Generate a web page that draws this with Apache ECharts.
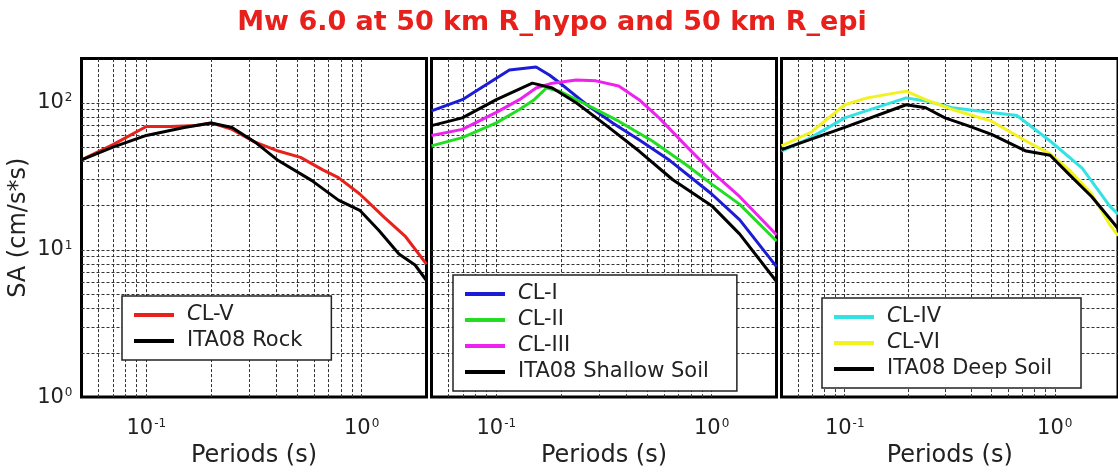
<!DOCTYPE html>
<html>
<head>
<meta charset="utf-8">
<script src="https://cdn.jsdelivr.net/npm/echarts@6/dist/echarts.min.js"></script>
<style>
  html, body { margin: 0; padding: 0; background: #fff; overflow: hidden; }
  #chart { width: 1118px; height: 473px; }
</style>
</head>
<body>
<div id="chart"></div>
<script>
// Response spectra, Mw 6.0 at 50 km (periods in s, SA in cm/s*s)

// Rock
const clVPeriods   = [0.05, 0.07, 0.1, 0.13, 0.17, 0.2, 0.25, 0.32, 0.41, 0.52, 0.66, 0.78, 0.98, 1.27, 1.6, 2.0];
const clV          = [41, 52, 69, 69, 70, 73, 66, 54, 47, 42.6, 35, 31, 24, 16.7, 12.3, 8];
const rockPeriods  = [0.05, 0.07, 0.1, 0.15, 0.2, 0.25, 0.32, 0.41, 0.585, 0.78, 0.98, 1.2, 1.49, 1.77, 2.0];
const ita08Rock    = [41, 50, 60, 68, 73, 68, 54, 40.5, 29.7, 21.8, 18.6, 13.6, 9.4, 7.9, 6.2];

// Shallow soil
const clIPeriods   = [0.05, 0.0695, 0.1, 0.115, 0.153, 0.177, 0.203, 0.263, 0.347, 0.46, 0.64, 1.0, 1.35, 2.0];
const clI          = [88, 105, 147, 167, 175, 154, 132, 97, 73, 56, 40.5, 24, 16, 7.7];
const clIIPeriods  = [0.05, 0.0695, 0.1, 0.128, 0.15, 0.171, 0.196, 0.263, 0.37, 0.53, 0.77, 1.0, 1.35, 2.0];
const clII         = [51, 58, 73, 90, 105, 126, 120, 97, 75, 55, 37.5, 28, 20.4, 11.5];
const clIIIPeriods = [0.05, 0.0695, 0.1, 0.128, 0.153, 0.182, 0.235, 0.29, 0.37, 0.46, 0.57, 0.77, 1.0, 1.35, 2.0];
const clIII        = [60, 66, 86, 105, 126, 136, 143, 141, 130, 105, 79, 50, 34, 23, 12.7];
const shallowPeriods = [0.05, 0.0695, 0.1, 0.147, 0.182, 0.235, 0.325, 0.46, 0.66, 1.0, 1.35, 2.0];
const ita08Shallow = [70, 79, 105, 136, 126, 100, 70, 47, 30, 20, 12.8, 6.1];

// Deep soil
const clIVPeriods  = [0.05, 0.069, 0.1, 0.196, 0.243, 0.325, 0.5, 0.66, 0.95, 1.35, 1.82, 2.0];
const clIV         = [47, 58, 79, 108, 103, 92.5, 86, 82, 55, 36, 20, 17.5];
const clVIPeriods  = [0.05, 0.069, 0.1, 0.128, 0.196, 0.243, 0.325, 0.5, 0.73, 0.95, 1.17, 1.5, 1.82, 2.0];
const clVI         = [51, 63, 97, 108, 120, 105, 90, 75, 55, 45, 35, 24, 15, 12.5];
const deepPeriods  = [0.05, 0.1, 0.196, 0.243, 0.30, 0.385, 0.5, 0.73, 0.95, 1.17, 1.5, 1.82, 2.0];
const ita08Deep    = [48, 68, 97, 92.5, 79, 70, 61, 47, 44, 32.6, 23, 16.5, 14];

// Log grid lines
const xGridValues = [0.06, 0.07, 0.08, 0.09, 0.1, 0.2, 0.3, 0.4, 0.5, 0.6, 0.7, 0.8, 0.9, 1];
const yGridValues = [2, 3, 4, 5, 6, 7, 8, 9, 10, 20, 30, 40, 50, 60, 70, 80, 90, 100];

const FONT = 'DejaVu Sans';
const panelLefts = [81.5, 431.5, 781.5];
const panelWidth = 345;
const panelTop = 58.5;
const panelHeight = 344;

function zip(xs, ys) { return xs.map((x, i) => [x, ys[i]]); }

function isDecade(v) {
  const l = Math.log10(v);
  return Math.abs(l - Math.round(l)) < 1e-6;
}
function decadeLabel(v) {
  if (!isDecade(v)) return '';
  return '{b|10}{s|' + Math.round(Math.log10(v)) + '}';
}
const powRich = {
  b: { fontSize: 21, fontFamily: FONT, color: '#222' },
  s: { fontSize: 12, fontFamily: FONT, color: '#222', verticalAlign: 'top', padding: [0, 0, 9, 1] }
};

const grids = panelLefts.map(l => ({
  left: l, top: panelTop, width: panelWidth, height: panelHeight,
  show: true, borderColor: '#000', borderWidth: 3, backgroundColor: '#fff', containLabel: false
}));

const xAxes = panelLefts.map((l, i) => ({
  type: 'log', gridIndex: i, min: 0.05, max: 2, logBase: 10,
  name: 'Periods (s)', nameLocation: 'middle', nameGap: 45,
  nameTextStyle: { fontSize: 24, fontFamily: FONT, color: '#222' },
  axisLine: { show: false }, axisTick: { show: false }, splitLine: { show: false },
  axisLabel: { formatter: decadeLabel, rich: powRich, margin: 21, showMinLabel: false, showMaxLabel: false }
}));

const yAxes = panelLefts.map((l, i) => ({
  type: 'log', gridIndex: i, min: 1, max: 200, logBase: 10,
  name: i === 0 ? 'SA (cm/s*s)' : '', nameLocation: 'middle', nameGap: 51, nameRotate: 90,
  nameTextStyle: { fontSize: 24, fontFamily: FONT, color: '#222' },
  axisLine: { show: false }, axisTick: { show: false }, splitLine: { show: false },
  axisLabel: { show: i === 0, formatter: decadeLabel, rich: powRich, margin: 9, showMaxLabel: false }
}));

function gridLines(i) {
  return {
    type: 'line', xAxisIndex: i, yAxisIndex: i, data: [], silent: true,
    markLine: {
      silent: true, symbol: 'none', z: 1, animation: false,
      label: { show: false },
      lineStyle: { color: '#333', width: 1, type: [3, 2] },
      data: xGridValues.map(v => ({ xAxis: v })).concat(yGridValues.map(v => ({ yAxis: v })))
    }
  };
}

function curve(name, xs, ys, color, i) {
  return {
    type: 'line', name, xAxisIndex: i, yAxisIndex: i, data: zip(xs, ys),
    showSymbol: false, symbol: 'none', smooth: false, z: 3,
    lineStyle: { color, width: 3 }, itemStyle: { color }
  };
}

function legend(names, left, top, padRight) {
  return {
    data: names, left, top, orient: 'vertical',
    backgroundColor: '#fff', borderColor: '#222', borderWidth: 1.5, borderRadius: 0,
    padding: [8, padRight, 8, 12], itemGap: 4, itemWidth: 40, itemHeight: 4,
    icon: 'rect',
    selectedMode: false,
    formatter: n => n.startsWith('CL') ? '{i|C}' + n.slice(1) : n,
    textStyle: {
      fontSize: 21, fontFamily: FONT, color: '#222', lineHeight: 22, padding: [0, 0, 0, 8],
      rich: { i: { fontSize: 21, fontFamily: FONT, fontStyle: 'italic', color: '#222' } }
    }
  };
}

const option = {
  animation: false,
  backgroundColor: '#fff',
  title: {
    text: 'Mw 6.0 at 50 km R_hypo and 50 km R_epi',
    left: 547, top: 4, textAlign: 'center',
    textStyle: { color: '#e8201c', fontSize: 27, fontWeight: 'bold', fontFamily: FONT }
  },
  grid: grids,
  xAxis: xAxes,
  yAxis: yAxes,
  legend: [
    legend(['CL-V', 'ITA08 Rock'], 122, 296, 29),
    legend(['CL-I', 'CL-II', 'CL-III', 'ITA08 Shallow Soil'], 453, 275, 28),
    legend(['CL-IV', 'CL-VI', 'ITA08 Deep Soil'], 822, 298, 29)
  ],
  series: [
    gridLines(0), gridLines(1), gridLines(2),
    curve('CL-V', clVPeriods, clV, '#e8211a', 0),
    curve('ITA08 Rock', rockPeriods, ita08Rock, '#000', 0),
    curve('CL-I', clIPeriods, clI, '#1c1cd6', 1),
    curve('CL-II', clIIPeriods, clII, '#22dd22', 1),
    curve('CL-III', clIIIPeriods, clIII, '#ee22ee', 1),
    curve('ITA08 Shallow Soil', shallowPeriods, ita08Shallow, '#000', 1),
    curve('CL-IV', clIVPeriods, clIV, '#33e3e3', 2),
    curve('CL-VI', clVIPeriods, clVI, '#f2f21e', 2),
    curve('ITA08 Deep Soil', deepPeriods, ita08Deep, '#000', 2)
  ]
};

const chart = echarts.init(document.getElementById('chart'), null, { renderer: 'canvas' });
chart.setOption(option);
</script>
</body>
</html>
